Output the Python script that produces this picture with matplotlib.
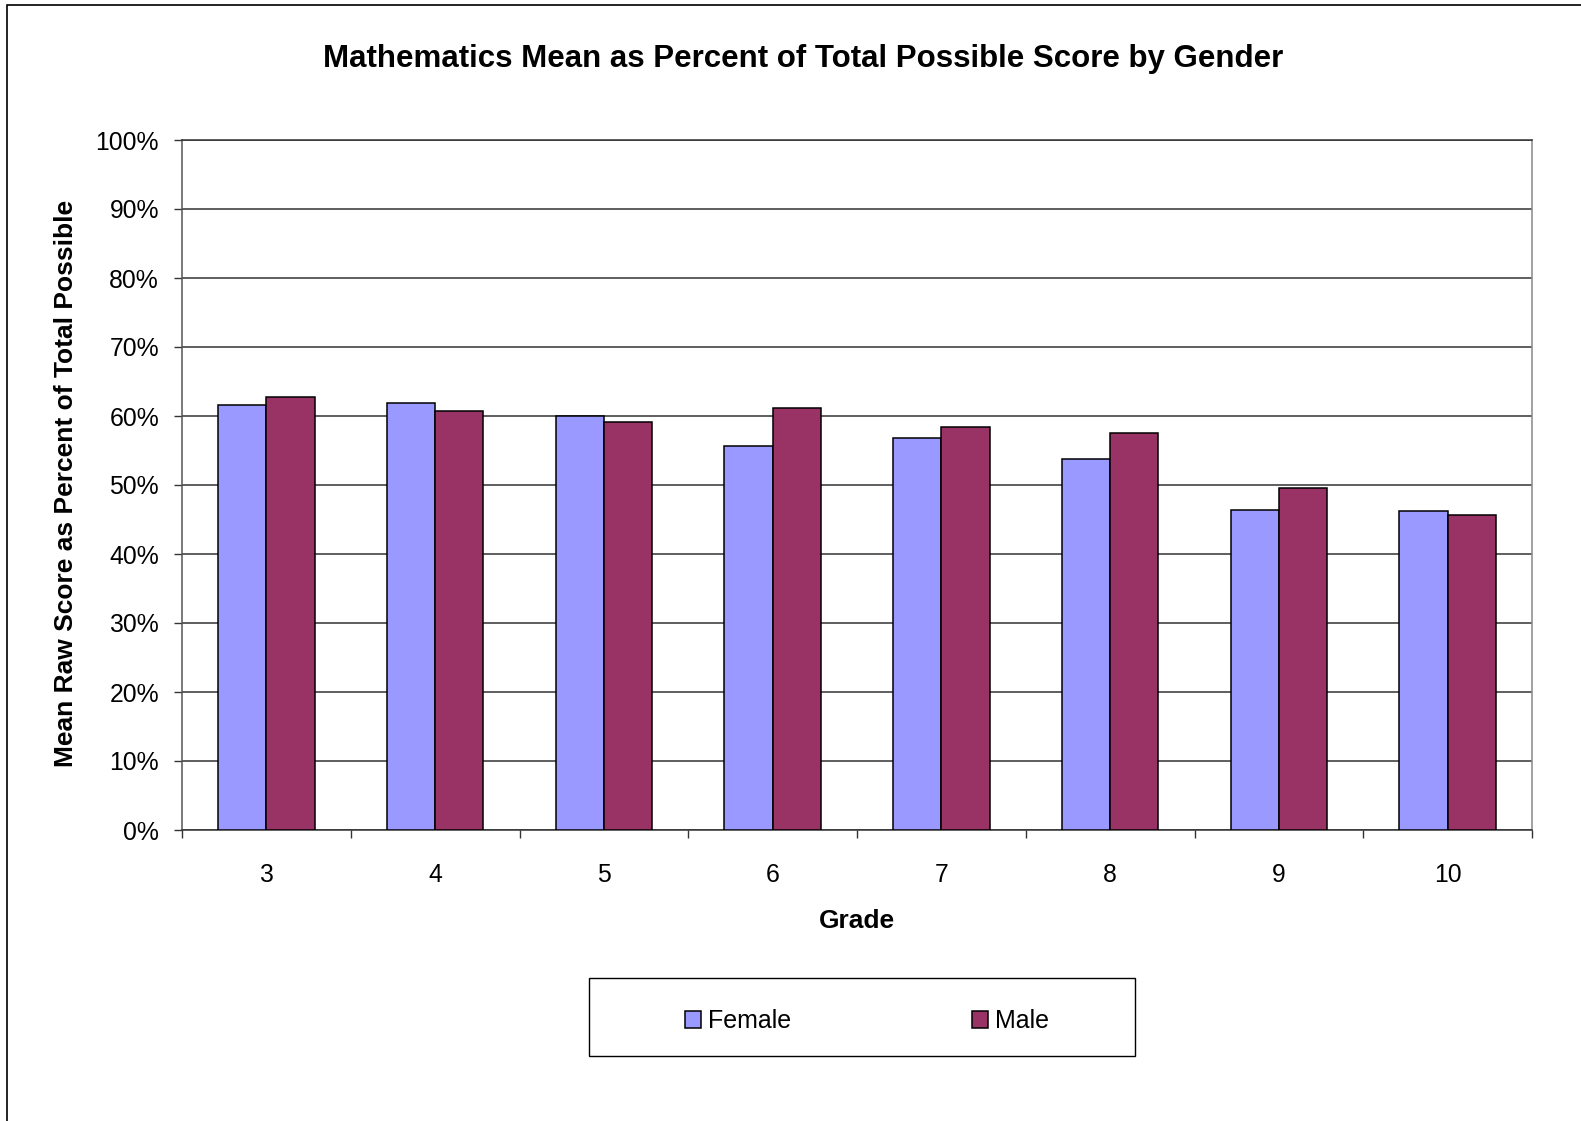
import matplotlib.pyplot as plt
import matplotlib.patches as mpatches
from matplotlib.ticker import FuncFormatter, FixedLocator
import numpy as np

plt.rcParams["font.family"] = ["Liberation Sans", "DejaVu Sans"]

# ── Data ───────────────────────────────────────────────────────
grades = ["3", "4", "5", "6", "7", "8", "9", "10"]
female = [61.6, 61.9, 60.0, 55.7, 56.8, 53.7, 46.4, 46.2]
male = [62.8, 60.7, 59.1, 61.1, 58.4, 57.5, 49.6, 45.7]
yticks = [0, 10, 20, 30, 40, 50, 60, 70, 80, 90, 100]

FEMALE_COLOR = "#9999FF"
MALE_COLOR = "#993366"

W, H = 1581, 1121
fig = plt.figure(figsize=(W / 100, H / 100), dpi=100)
ax = fig.add_axes([182 / W, 1 - 830 / H, (1532 - 182) / W, (830 - 140) / H])

# ── Bars ───────────────────────────────────────────────────────
x = np.arange(len(grades))
bw = 1 / 3.5
ax.bar(x - bw / 2, female, bw, color=FEMALE_COLOR, edgecolor="black",
       linewidth=1.1, zorder=3, label="Female")
ax.bar(x + bw / 2, male, bw, color=MALE_COLOR, edgecolor="black",
       linewidth=1.1, zorder=3, label="Male")

# ── Axes styling ───────────────────────────────────────────────
ax.set_xlim(-0.5, len(grades) - 0.5)
ax.set_ylim(0, 100)
ax.set_yticks(yticks)
ax.yaxis.set_major_formatter(FuncFormatter(lambda v, p: f"{v:.0f}%"))
ax.yaxis.grid(True, color="#333333", linewidth=1.1, zorder=0)
ax.tick_params(axis="y", length=6, width=1, color="#333333",
               pad=10.5, labelsize=17.8)

ax.set_xticks(x)
ax.set_xticklabels(grades)
ax.xaxis.set_minor_locator(FixedLocator(np.arange(-0.5, len(grades), 1.0)))
ax.tick_params(axis="x", which="major", length=0, pad=24, labelsize=17.8)
ax.tick_params(axis="x", which="minor", length=6, width=1, color="#333333")

ax.spines["left"].set_color("#555555")
ax.spines["bottom"].set_color("#333333")
ax.spines["right"].set_color("#888888")
ax.spines["top"].set_color("#333333")
for s in ax.spines.values():
    s.set_linewidth(1.1)

# ── Texts ──────────────────────────────────────────────────────
fig.text(803 / W, 1 - 59 / H,
         "Mathematics Mean as Percent of Total Possible Score by Gender",
         ha="center", va="center", fontsize=22.5, fontweight="bold")
fig.text(66 / W, 1 - 483 / H, "Mean Raw Score as Percent of Total Possible",
         ha="center", va="center", rotation=90, fontsize=19,
         fontweight="bold")
fig.text(857 / W, 1 - 921 / H, "Grade", ha="center", va="center",
         fontsize=19, fontweight="bold")

# ── Legend (box drawn separately) ─────────────────────────────
fig.add_artist(mpatches.Rectangle((589 / W, 1 - 1056 / H), 546 / W, 78 / H,
                                  transform=fig.transFigure, fill=False,
                                  edgecolor="black", linewidth=1))
handles = [mpatches.Patch(facecolor=FEMALE_COLOR, edgecolor="black",
                          linewidth=1.1, label="Female"),
           mpatches.Patch(facecolor=MALE_COLOR, edgecolor="black",
                          linewidth=1.1, label="Male")]
fig.legend(handles=handles, loc="center", bbox_to_anchor=(867 / W, 1 - 1021 / H),
           ncol=2, frameon=False, fontsize=18, handlelength=0.65,
           handleheight=0.65, handletextpad=0.3, columnspacing=7.2)

# ── Outer chart border (left and top visible) ─────────────────
fig.add_artist(mpatches.Rectangle((7 / W, -0.01), 1.1, 1.01 - 5 / H,
                                  transform=fig.transFigure, fill=False,
                                  edgecolor="black", linewidth=1.2))

plt.savefig("out.png", dpi=100)
